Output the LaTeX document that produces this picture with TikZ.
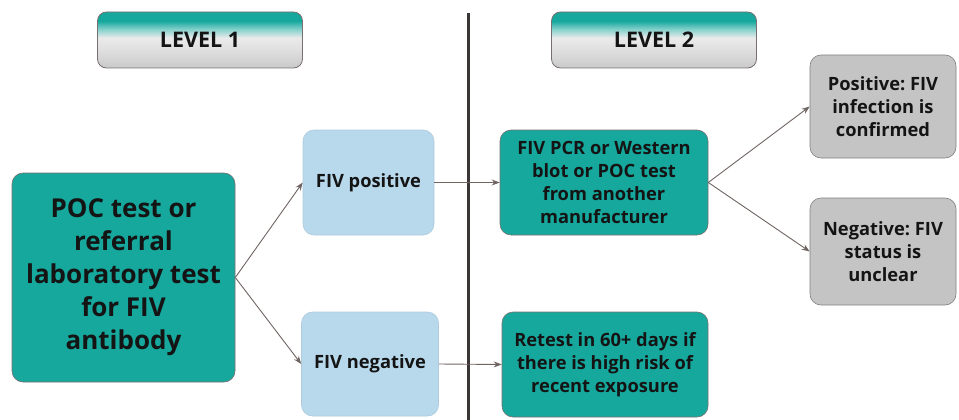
\documentclass[tikz,border=0pt]{standalone}
\usepackage{fontspec}
\setmainfont{Open Sans}
\frenchspacing
\usetikzlibrary{arrows.meta}
\definecolor{tealbox}{RGB}{22,168,157}
\definecolor{bluebox}{RGB}{184,216,236}
\definecolor{graybox}{RGB}{196,196,196}
\definecolor{edgegray}{RGB}{120,112,110}
\definecolor{arrowgray}{RGB}{110,100,98}
\definecolor{divider}{RGB}{58,54,54}
\definecolor{inktext}{RGB}{20,20,20}
\pgfdeclareverticalshading{levelshade}{100bp}{color(0bp)=(gray!42); color(25bp)=(gray!42);
    color(42bp)=(gray!24); color(52bp)=(gray!16); color(60bp)=(tealbox!55!white);
    color(67bp)=(tealbox); color(100bp)=(tealbox)}
\begin{document}
\begin{tikzpicture}[x=1pt,y=-1pt,
    box/.style={draw=edgegray,line width=.6pt,rounded corners=11pt,align=center,
        text=inktext,font=\bfseries\fontsize{18.3}{23}\selectfont,inner sep=2pt},
    tealcell/.style={box,fill=tealbox},
    bluecell/.style={box,fill=bluebox,draw=bluebox!85!gray},
    graycell/.style={box,fill=graybox,draw=gray},
    levelbox/.style={draw=edgegray,line width=.8pt,rounded corners=9pt,shading=levelshade,
        minimum width=205pt,minimum height=56pt,text=inktext,
        font=\bfseries\fontsize{21.5}{24}\selectfont},
    flow/.style={draw=arrowgray,line width=.9pt,-{Stealth[length=8pt,width=6pt]}}]
                \useasboundingbox (0,0) rectangle (959,420);
                \coordinate (top) at (468,13);
                \coordinate (bot) at (468,420);
                \draw[divider,line width=3pt] (top)--(bot);
                \node[levelbox] (lvla) at (200,40) {LEVEL 1};
                \node[levelbox] (lvlb) at (654,40) {LEVEL 2};
                \node[tealcell,minimum width=223pt,minimum height=209pt,
                    font=\bfseries\fontsize{26}{33}\selectfont] (test) at (123.5,277.5)
                    {POC test or\\referral\\laboratory test\\for FIV\\antibody};
                \node[bluecell,minimum width=131pt,minimum height=105pt] (pos) at (368.5,182.5) {FIV positive};
                \node[bluecell,minimum width=137pt,minimum height=104pt] (neg) at (370,364) {FIV negative};
                \node[tealcell,minimum width=208pt,minimum height=105pt] (pcr) at (604,182.5)
                    {FIV PCR or Western\\blot or POC test\\from another\\manufacturer};
                \node[tealcell,minimum width=206pt,minimum height=105pt] (retest) at (605,364.5)
                    {Retest in 60+ days if\\there is high risk of\\recent exposure};
                \node[graycell,minimum width=146pt,minimum height=103pt] (conf) at (883,106.5)
                    {Positive: FIV\\infection is\\confirmed};
                \node[graycell,minimum width=146pt,minimum height=107pt] (unclr) at (883,251.5)
                    {Negative: FIV\\status is\\unclear};
                \draw[flow] (test.east)--(pos.west);
                \draw[flow] (test.east)--(neg.west);
                \draw[flow] (pos.east)--(pcr.west);
                \draw[flow] (neg.east)--(retest.west);
                \draw[flow] (pcr.east)--(conf.west);
                \draw[flow] (pcr.east)--(unclr.west);
            \end{tikzpicture}
\end{document}
